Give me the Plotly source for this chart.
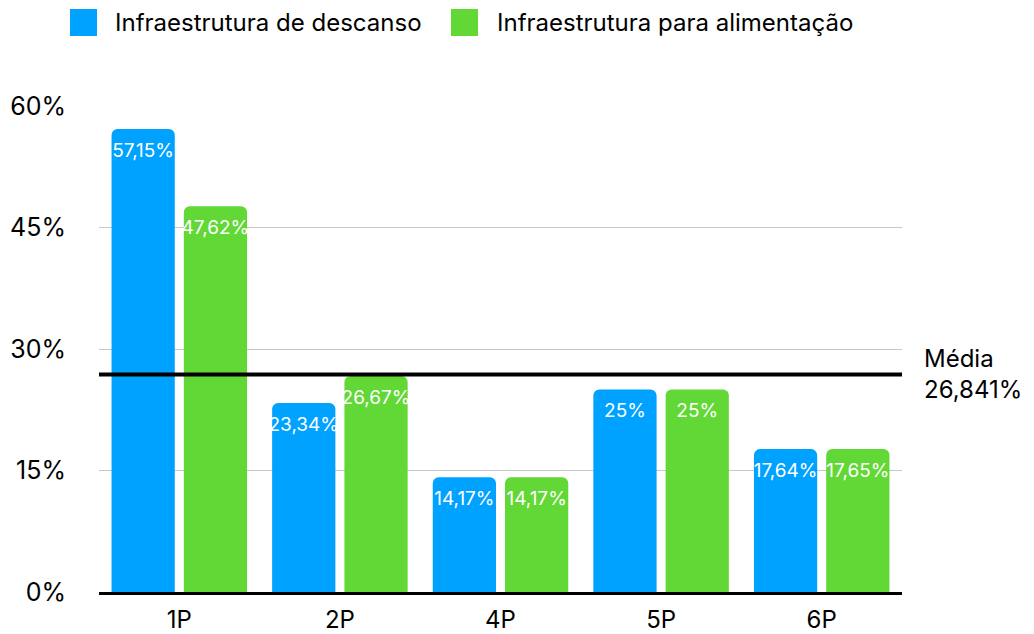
import plotly.graph_objects as go

categories = ["1P", "2P", "4P", "5P", "6P"]
descanso = [57.15, 23.34, 14.17, 25, 17.64]
alimentacao = [47.62, 26.67, 14.17, 25, 17.65]
descanso_labels = ["57,15%", "23,34%", "14,17%", "25%", "17,64%"]
alimentacao_labels = ["47,62%", "26,67%", "14,17%", "25%", "17,65%"]
series_names = ["Infraestrutura de descanso", "Infraestrutura para alimentação"]
series_colors = ["#00A2FF", "#61D836"]
media = 26.841
media_label = "Média<br>26,841%"
y_ticks = [0, 15, 30, 45, 60]
y_tick_labels = ["0%", "15%", "30%", "45%", "60%"]

FONT = "Inter, Liberation Sans, Arial, sans-serif"
W, H = 1034, 634
ML, MR, MT, MB = 99, 132, 106, 42
PW, PH = W - ML - MR, H - MT - MB


def px_x(x):
    return (x - ML) / PW


def px_y(y):
    return (H - MB - y) / PH


series = [
    (series_names[0], descanso, descanso_labels, series_colors[0]),
    (series_names[1], alimentacao, alimentacao_labels, series_colors[1]),
]

fig = go.Figure()
for name, vals, labels, color in series:
    fig.add_trace(go.Bar(
        name=name, x=categories, y=vals,
        marker=dict(color=color, cornerradius=6, line=dict(width=0)),
        showlegend=False, hoverinfo="skip",
    ))
# value labels, grouped to sit over the bars
for name, vals, labels, color in series:
    fig.add_trace(go.Scatter(
        name=name, x=categories, y=vals, text=labels,
        mode="markers+text", textposition="bottom center",
        marker=dict(size=20, opacity=0, color=color),
        textfont=dict(color="white", size=19, family=FONT),
        showlegend=False, cliponaxis=False, hoverinfo="skip",
    ))

fig.add_shape(type="line", xref="paper", x0=0, x1=1, yref="y", y0=media, y1=media,
              line=dict(color="black", width=4), layer="above")
fig.add_annotation(xref="paper", x=1, yref="y", y=media, text=media_label,
                   showarrow=False, xanchor="left", yanchor="middle", align="left",
                   xshift=20, yshift=1, font=dict(size=24, color="black", family=FONT))

# legend (custom, to match square swatches)
legend_items = [(70, 113), (451, 495)]
for (sx, tx), name, color in zip(legend_items, series_names, series_colors):
    fig.add_shape(type="rect", xref="paper", yref="paper",
                  x0=px_x(sx), x1=px_x(sx + 27), y0=px_y(9), y1=px_y(36),
                  fillcolor=color, line=dict(width=0))
    fig.add_annotation(xref="paper", yref="paper", x=px_x(tx), y=px_y(22.5),
                       text=name, showarrow=False, xanchor="left", yanchor="middle",
                       font=dict(size=24, color="black", family=FONT))

fig.update_layout(
    width=W, height=H,
    margin=dict(l=ML, r=MR, t=MT, b=MB),
    paper_bgcolor="white", plot_bgcolor="white",
    font=dict(family=FONT, size=24, color="black"),
    barmode="group", bargap=0.1, bargroupgap=0.125,
    scattermode="group", scattergap=0.1,
    showlegend=False, hovermode=False,
    xaxis=dict(showgrid=False, showline=True, linecolor="black", linewidth=2.5,
               ticks="", tickfont=dict(size=24), ticklabelstandoff=4,
               automargin=False),
    yaxis=dict(range=[0, 60], tickvals=y_ticks, ticktext=y_tick_labels,
               showgrid=True, gridcolor="#C8C8C8", gridwidth=1, zeroline=False,
               showline=False, ticks="", ticklabelstandoff=32,
               tickfont=dict(size=25), automargin=False),
)

fig.write_html(
    "out.html",
    config={"displayModeBar": False},
    post_script="document.body.style.margin='0';document.body.style.overflow='hidden';",
)
